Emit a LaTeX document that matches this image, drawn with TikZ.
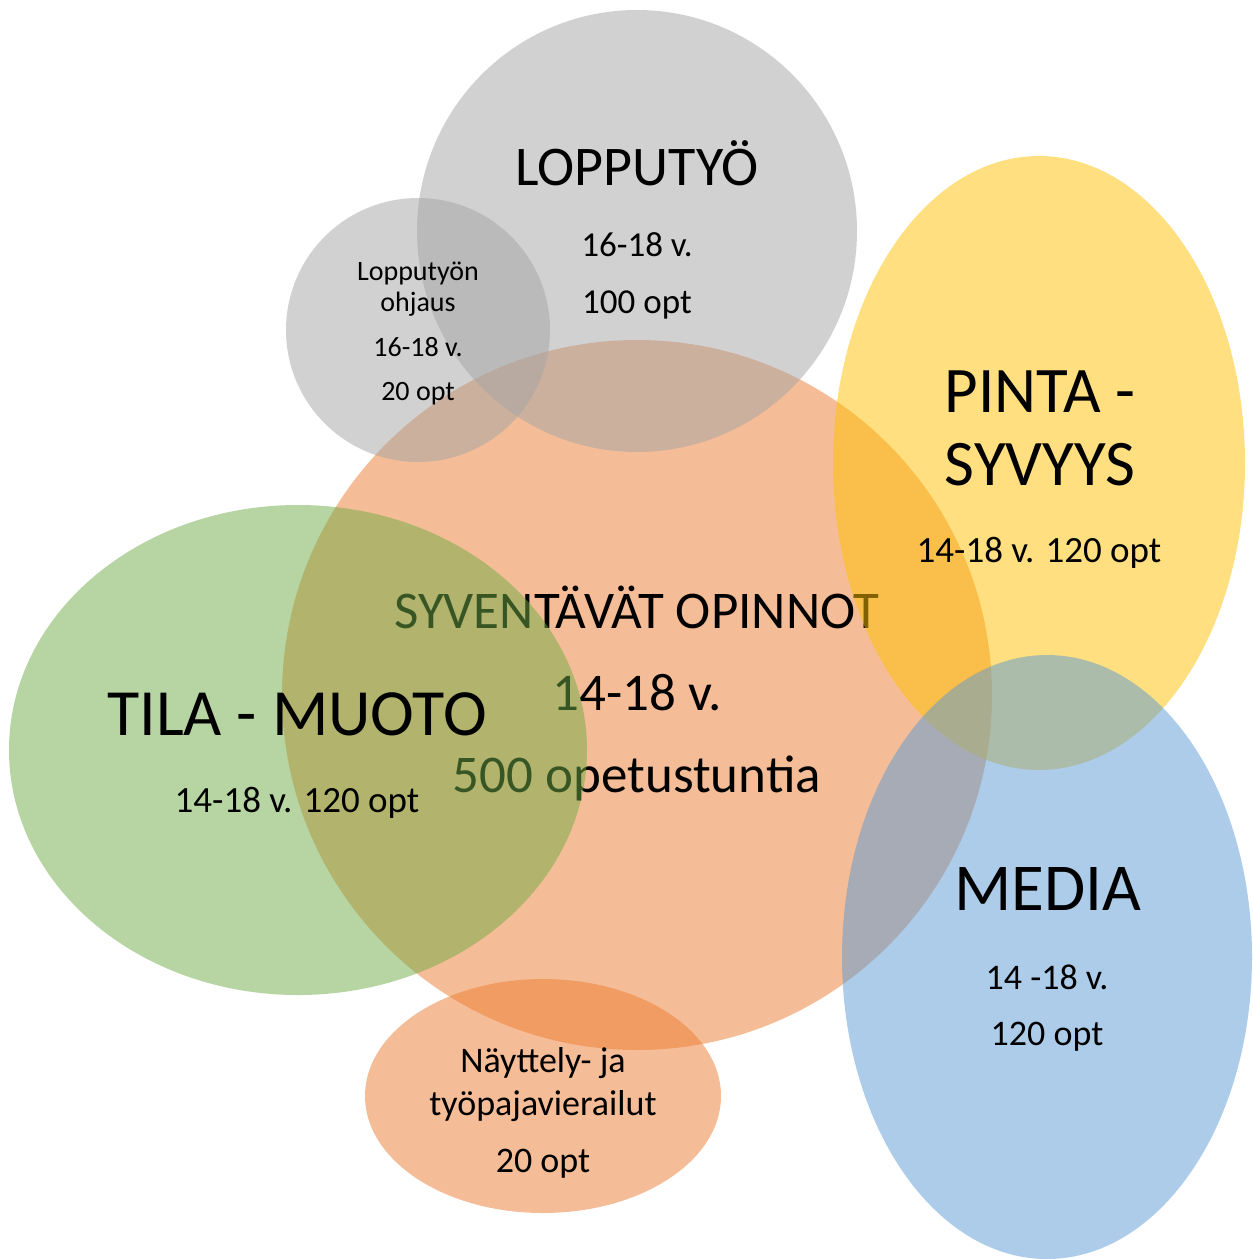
\documentclass[tikz,border=0pt]{standalone}
\usepackage{fontspec}
\setmainfont{Carlito}
\definecolor{corange}{HTML}{ED7D31}
\definecolor{cgray}{HTML}{A5A5A5}
\definecolor{cyellow}{HTML}{FFC000}
\definecolor{cblue}{HTML}{5B9BD5}
\definecolor{cgreen}{HTML}{70AD47}
\newcommand{\fsz}[1]{\fontsize{#1}{#1}\selectfont}
\tikzset{
  blob/.style={fill opacity=0.5},
  lbl/.style={anchor=base, inner sep=0pt, text=black}
}
\begin{document}
\begin{tikzpicture}[x=1pt,y=-1pt]
\useasboundingbox (0,0) rectangle (1253,1259);
\fill[white] (0,0) rectangle (1253,1259);
% central
\fill[blob, corange] (637,695) ellipse [x radius=355, y radius=355];
\node[lbl] (syv1) at (637,628) {\fsz{53}SYVENTÄVÄT OPINNOT};
\node[lbl] (syv2) at (637,710) {\fsz{53}14-18 v.};
\node[lbl] (syv3) at (637,792) {\fsz{53}500 opetustuntia};
% gray
\fill[blob, cgray] (637,231) ellipse [x radius=220, y radius=221];
\fill[blob, cgray] (418,330) ellipse [x radius=132, y radius=132];
% green
\fill[blob, cgreen] (298,750) ellipse [x radius=289, y radius=245];
% yellow
\fill[blob, cyellow] (1039,463) ellipse [x radius=206, y radius=307];
% blue
\fill[blob, cblue] (1047,957) ellipse [x radius=205, y radius=302];
% bottom orange
\fill[blob, corange] (543,1096) ellipse [x radius=178, y radius=117];
% labels
\node[lbl] (lop1) at (637,185) {\fsz{56}LOPPUTYÖ};
\node[lbl] (lop2) at (637,256) {\fsz{35}16-18 v.};
\node[lbl] (lop3) at (637,313) {\fsz{35}100 opt};
\node[lbl] (oh1) at (418,280) {\fsz{28}Lopputyön};
\node[lbl] (oh2) at (418,311) {\fsz{28}ohjaus};
\node[lbl] (oh3) at (418,356) {\fsz{28}16-18 v.};
\node[lbl] (oh4) at (418,400) {\fsz{28}20 opt};
\node[lbl] (pin1) at (1040,412) {\fsz{65}PINTA -};
\node[lbl] (pin2) at (1040,485) {\fsz{65}SYVYYS};
\node[lbl] (pin3) at (1039,562) {\fsz{37}14-18 v. 120 opt};
\node[lbl] (tila1) at (297,735) {\fsz{66}TILA - MUOTO};
\node[lbl] (tila2) at (297,812) {\fsz{37}14-18 v. 120 opt};
\node[lbl] (med1) at (1048,910) {\fsz{67}MEDIA};
\node[lbl] (med2) at (1047,989) {\fsz{36}14 -18 v.};
\node[lbl] (med3) at (1047,1045) {\fsz{36}120 opt};
\node[lbl] (nay1) at (543,1072) {\fsz{36}Näyttely- ja};
\node[lbl] (nay2) at (543,1115) {\fsz{36}työpajavierailut};
\node[lbl] (nay3) at (543,1172) {\fsz{36}20 opt};
\end{tikzpicture}
\end{document}
